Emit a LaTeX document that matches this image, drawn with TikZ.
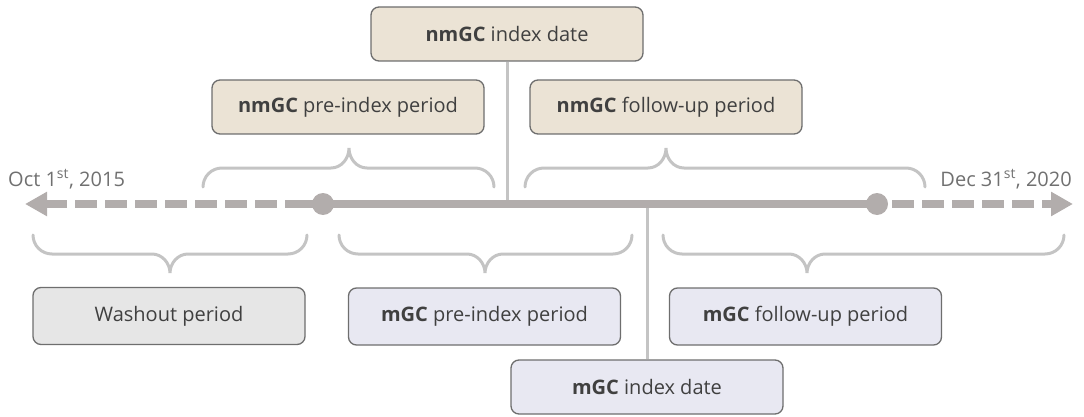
\documentclass[tikz,border=0pt]{standalone}
\usepackage{fontspec}
\setmainfont{Open Sans}
\usetikzlibrary{arrows.meta}

\definecolor{axisgray}{RGB}{178,173,172}
\definecolor{bracegray}{RGB}{196,196,196}
\definecolor{linkgray}{RGB}{196,196,196}
\definecolor{edgegray}{RGB}{110,110,110}
\definecolor{textgray}{RGB}{64,64,64}
\definecolor{dategray}{RGB}{112,112,112}
\definecolor{nmfill}{RGB}{235,227,213}
\definecolor{mfill}{RGB}{232,232,242}
\definecolor{washfill}{RGB}{230,230,230}

% curly brace opening downward (tip on top): x-left, x-right, x-tip
\newcommand{\upbrace}[3]{%
  \draw[brace] (#1,187) .. controls (#1,176.5) and ({#1+8.5},168) .. ({#1+19},168)
    -- ({#3-18},168) .. controls ({#3-8},168) and (#3,159) .. (#3,148)
    .. controls (#3,159) and ({#3+8},168) .. ({#3+18},168)
    -- ({#2-19},168) .. controls ({#2-8.5},168) and (#2,176.5) .. (#2,187);}
% curly brace opening upward (tip below)
\newcommand{\downbrace}[3]{%
  \draw[brace] (#1,235) .. controls (#1,245.5) and ({#1+8.5},254) .. ({#1+19},254)
    -- ({#3-18},254) .. controls ({#3-8},254) and (#3,263) .. (#3,273)
    .. controls (#3,263) and ({#3+8},254) .. ({#3+18},254)
    -- ({#2-19},254) .. controls ({#2-8.5},254) and (#2,245.5) .. (#2,235);}

\begin{document}
\begin{tikzpicture}[x=1pt,y=-1pt,
  box/.style={draw=edgegray, line width=1.3pt, rounded corners=8pt,
    minimum width=272pt, minimum height=54pt, inner sep=0pt,
    text=textgray, font=\fontsize{20}{24}\selectfont},
  nmbox/.style={box, fill=nmfill},
  mbox/.style={box, fill=mfill},
  washbox/.style={box, fill=washfill, minimum height=57pt},
  brace/.style={draw=bracegray, line width=3pt, line cap=round},
  link/.style={draw=linkgray, line width=3pt},
  axis/.style={draw=axisgray, line width=7.5pt},
  axisdash/.style={axis, dash pattern=on 22pt off 8pt,
    -{Triangle[length=22pt,width=23pt]}},
  dot/.style={circle, fill=axisgray, minimum size=22pt, inner sep=0pt},
  datelbl/.style={text=dategray, font=\fontsize{20}{24}\selectfont, inner sep=0pt}
]
\useasboundingbox (0,0) rectangle (1084,417);

% boxes
\node[nmbox] (nmidx) at (507,34) {\textbf{nmGC} index date};
\node[nmbox] (nmpre) at (348,107) {\textbf{nmGC} pre-index period};
\node[nmbox] (nmfu)  at (666,107) {\textbf{nmGC} follow-up period};
\node[washbox] (wash) at (169,316) {Washout period};
\node[mbox, minimum height=57pt] (mpre) at (484.5,316.5) {\textbf{mGC} pre-index period};
\node[mbox, minimum height=57pt] (mfu)  at (805.5,316.5) {\textbf{mGC} follow-up period};
\node[mbox] (midx) at (647,387) {\textbf{mGC} index date};

% timeline anchors
\coordinate (tipL) at (25,204);
\coordinate (tipR) at (1073,204);
\coordinate (startpt) at (323,204);
\coordinate (endpt) at (877,204);
\coordinate (dashL) at (307,204);
\coordinate (dashR) at (892,204);

% index date links
\draw[link] (nmidx.south) -- (nmidx.south |- startpt);
\draw[link] (midx.north) -- (midx.north |- startpt);

% timeline
\draw[axisdash] (dashL) -- (tipL);
\draw[axisdash] (dashR) -- (tipR);
\draw[axis] (dashL) -- (endpt);
\node[dot] (d1) at (startpt) {};
\node[dot] (d2) at (endpt) {};

% dates
\node[datelbl, anchor=base west] (dstart) at (8,186) {Oct 1\textsuperscript{st}, 2015};
\node[datelbl, anchor=base east] (dend) at (1072,186) {Dec 31\textsuperscript{st}, 2020};

% braces
\upbrace{203}{494}{349}
\upbrace{525}{925}{666}
\downbrace{33}{307}{170}
\downbrace{339}{632}{485}
\downbrace{663}{1064}{807}
\end{tikzpicture}
\end{document}
